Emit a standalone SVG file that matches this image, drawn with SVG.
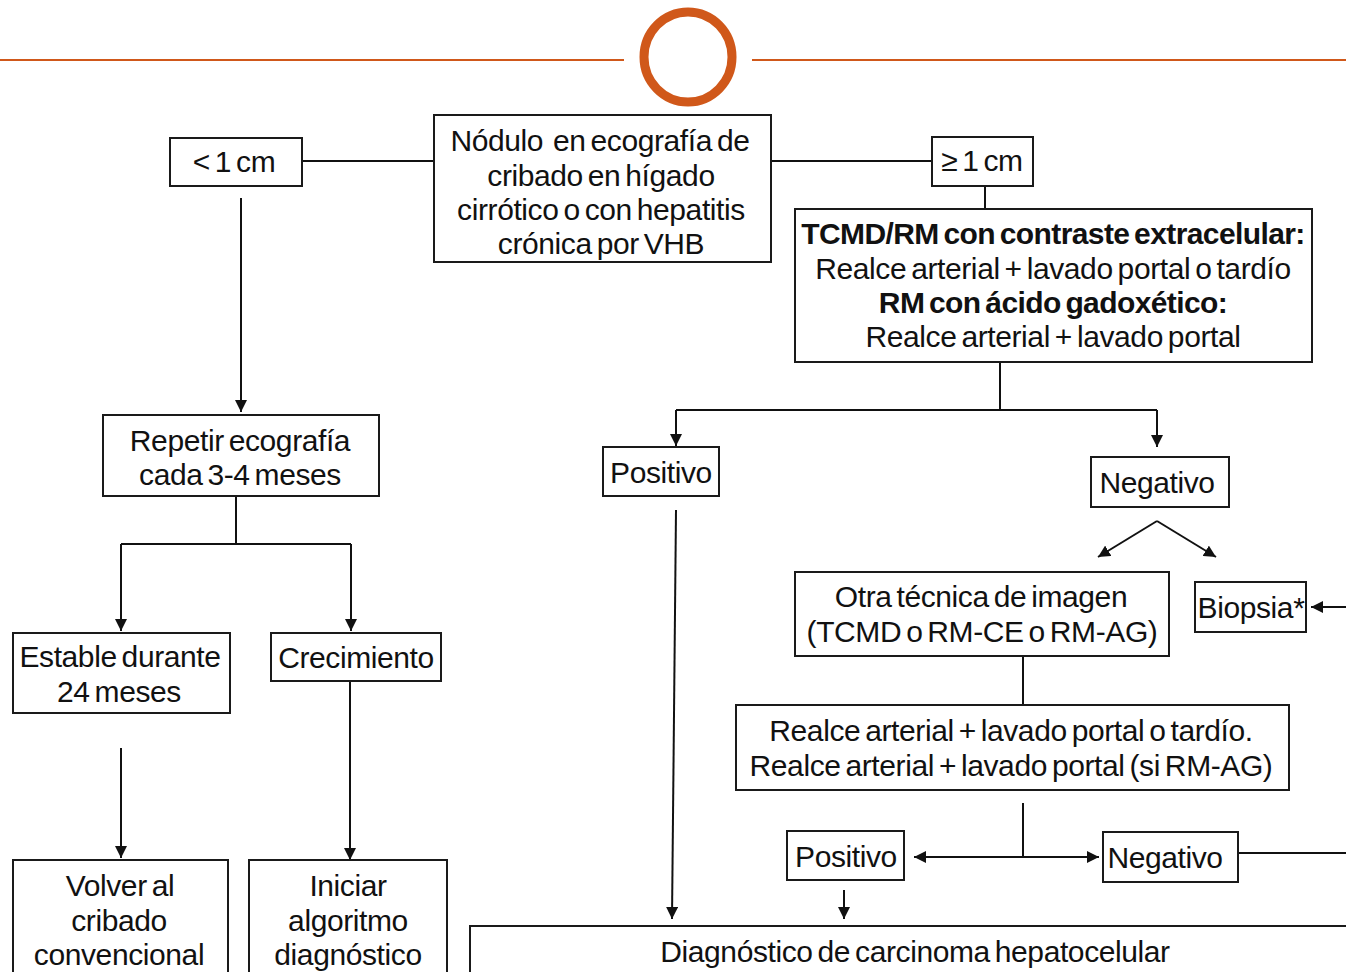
<svg xmlns="http://www.w3.org/2000/svg" width="1346" height="972" viewBox="0 0 1346 972">
  <style>
    .box { fill: #ffffff; stroke: #1a1a1a; stroke-width: 2; }
    .t { font-family: "Liberation Sans", Arial, sans-serif; font-size: 30px; fill: #111; text-anchor: middle; letter-spacing: -0.4px; word-spacing: -3px; }
    .b { font-weight: bold; letter-spacing: -0.6px; }
    .ln { fill: none; stroke: #111; stroke-width: 2; }
    .ar { fill: none; stroke: #111; stroke-width: 2; marker-end: url(#ah); }
    .deco { stroke: #d0581a; fill: none; }
  </style>
  <defs>
    <marker id="ah" viewBox="0 0 10 10" refX="10" refY="5" markerWidth="6" markerHeight="6" orient="auto" markerUnits="strokeWidth">
      <path d="M0,0 L10,5 L0,10 z" fill="#111"/>
    </marker>
  </defs>

  <rect width="1346" height="972" fill="#ffffff"/>

  <!-- header ornament -->
  <g id="header">
    <line class="deco" x1="0" y1="60" x2="624" y2="60" stroke-width="2"/>
    <line class="deco" x1="752" y1="60" x2="1346" y2="60" stroke-width="2"/>
    <ellipse class="deco" cx="688" cy="57" rx="44" ry="45" stroke-width="9"/>
  </g>

  <!-- connectors -->
  <g id="connectors">
    <line class="ln" x1="302" y1="161" x2="434" y2="161"/>
    <line class="ln" x1="771" y1="161" x2="932" y2="161"/>
    <line class="ln" x1="985" y1="186" x2="985" y2="209"/>
    <line class="ar" x1="241" y1="198" x2="241" y2="412"/>
    <line class="ln" x1="236" y1="496" x2="236" y2="544"/>
    <polyline class="ln" points="121,544 351,544"/>
    <line class="ar" x1="121" y1="544" x2="121" y2="631"/>
    <line class="ar" x1="351" y1="544" x2="351" y2="631"/>
    <line class="ar" x1="121" y1="748" x2="121" y2="858"/>
    <line class="ar" x1="350" y1="681" x2="350" y2="860"/>

    <line class="ln" x1="1000" y1="362" x2="1000" y2="410"/>
    <polyline class="ln" points="676,410 1157,410"/>
    <line class="ar" x1="676" y1="410" x2="676" y2="446"/>
    <line class="ar" x1="1157" y1="410" x2="1157" y2="447"/>
    <line class="ar" x1="676" y1="510" x2="672" y2="919"/>
    <line class="ar" x1="1157" y1="521" x2="1098" y2="557"/>
    <line class="ar" x1="1157" y1="521" x2="1216" y2="557"/>
    <line class="ar" x1="1346" y1="607" x2="1311" y2="607"/>
    <line class="ln" x1="1023" y1="656" x2="1023" y2="705"/>
    <line class="ln" x1="1023" y1="803" x2="1023" y2="857"/>
    <line class="ar" x1="1023" y1="857" x2="914" y2="857"/>
    <line class="ar" x1="1023" y1="857" x2="1099" y2="857"/>
    <line class="ln" x1="1238" y1="853" x2="1346" y2="853"/>
    <line class="ar" x1="844" y1="890" x2="844" y2="919"/>
  </g>

  <g id="n-nodulo">
    <rect class="box" x="434" y="115" width="337" height="147"/>
    <text class="t" x="600" y="151">Nódulo&#160; en ecografía de</text>
    <text class="t" x="601" y="186">cribado en hígado</text>
    <text class="t" x="601" y="220">cirrótico o con hepatitis</text>
    <text class="t" x="601" y="254">crónica por VHB</text>
  </g>

  <g id="n-menor">
    <rect class="box" x="170" y="138" width="132" height="48"/>
    <text class="t" x="234" y="172">&lt; 1 cm</text>
  </g>

  <g id="n-mayor">
    <rect class="box" x="932" y="137" width="101" height="49"/>
    <text class="t" x="982" y="171">≥ 1 cm</text>
  </g>

  <g id="n-tcmd">
    <rect class="box" x="795" y="209" width="517" height="153"/>
    <text class="t b" x="1053" y="244">TCMD/RM con contraste extracelular:</text>
    <text class="t" x="1053" y="279">Realce arterial + lavado portal o tardío</text>
    <text class="t b" x="1053" y="313">RM con ácido gadoxético:</text>
    <text class="t" x="1053" y="347">Realce arterial + lavado portal</text>
  </g>

  <g id="n-repetir">
    <rect class="box" x="103" y="415" width="276" height="81"/>
    <text class="t" x="240" y="451">Repetir ecografía</text>
    <text class="t" x="240" y="485">cada 3-4 meses</text>
  </g>

  <g id="n-positivo1">
    <rect class="box" x="603" y="447" width="116" height="49"/>
    <text class="t" x="661" y="483">Positivo</text>
  </g>

  <g id="n-negativo1">
    <rect class="box" x="1091" y="457" width="138" height="50"/>
    <text class="t" x="1157" y="493">Negativo</text>
  </g>

  <g id="n-estable">
    <rect class="box" x="13" y="633" width="217" height="80"/>
    <text class="t" x="120" y="667">Estable durante</text>
    <text class="t" x="119" y="702">24 meses</text>
  </g>

  <g id="n-crecimiento">
    <rect class="box" x="271" y="633" width="170" height="48"/>
    <text class="t" x="356" y="668">Crecimiento</text>
  </g>

  <g id="n-otra">
    <rect class="box" x="795" y="572" width="374" height="84"/>
    <text class="t" x="981" y="607">Otra técnica de imagen</text>
    <text class="t" x="982" y="642">(TCMD o RM-CE o RM-AG)</text>
  </g>

  <g id="n-biopsia">
    <rect class="box" x="1195" y="582" width="111" height="50"/>
    <text class="t" x="1251" y="618">Biopsia*</text>
  </g>

  <g id="n-realce">
    <rect class="box" x="736" y="705" width="553" height="85"/>
    <text class="t" x="1011" y="741">Realce arterial + lavado portal o tardío.</text>
    <text class="t" x="1011" y="776">Realce arterial + lavado portal (si RM-AG)</text>
  </g>

  <g id="n-positivo2">
    <rect class="box" x="787" y="831" width="117" height="49"/>
    <text class="t" x="846" y="867">Positivo</text>
  </g>

  <g id="n-negativo2">
    <rect class="box" x="1103" y="832" width="135" height="50"/>
    <text class="t" x="1165" y="868">Negativo</text>
  </g>

  <g id="n-volver">
    <rect class="box" x="13" y="860" width="215" height="130"/>
    <text class="t" x="120" y="896">Volver al</text>
    <text class="t" x="119" y="931">cribado</text>
    <text class="t" x="119" y="965">convencional</text>
  </g>

  <g id="n-iniciar">
    <rect class="box" x="249" y="860" width="198" height="130"/>
    <text class="t" x="348" y="896">Iniciar</text>
    <text class="t" x="348" y="931">algoritmo</text>
    <text class="t" x="348" y="965">diagnóstico</text>
  </g>

  <g id="n-diagnostico">
    <rect class="box" x="470" y="926" width="900" height="70"/>
    <text class="t" x="915" y="962">Diagnóstico de carcinoma hepatocelular</text>
  </g>
</svg>
